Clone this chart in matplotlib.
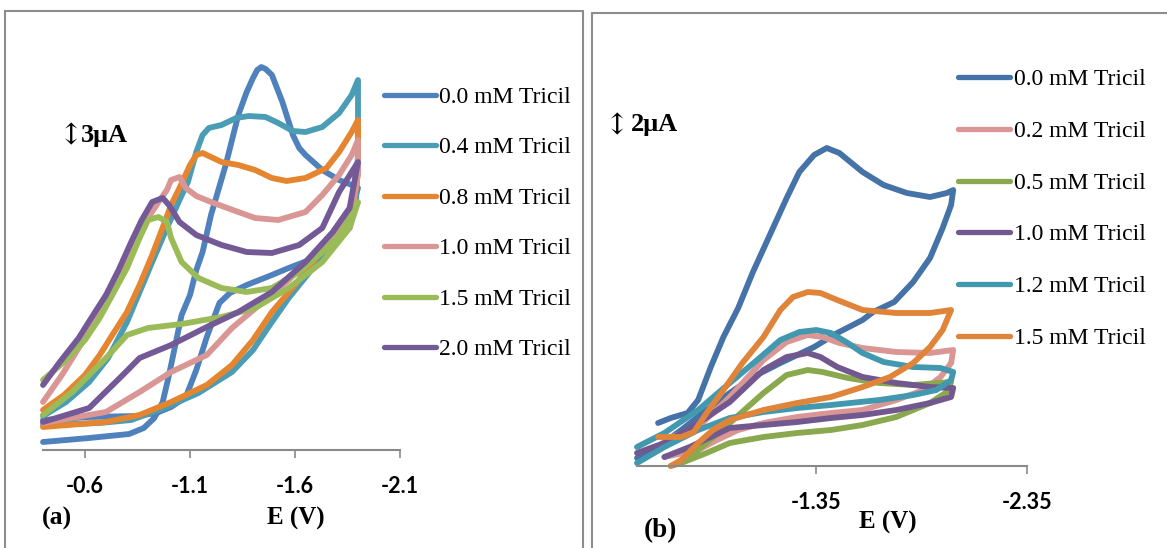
import matplotlib
matplotlib.use("Agg")
import matplotlib.pyplot as plt
from matplotlib.lines import Line2D
from matplotlib.patches import Rectangle

plt.rcParams['axes.unicode_minus'] = False
SERIF = ['Liberation Serif', 'DejaVu Serif']

W, H = 1167, 548


def fx(x):
    return x / W


def fy(y):
    return 1 - y / H


# ---- (a) CVs, E in V, I in uA ----
a_labels = ['0.0 mM Tricil', '0.4 mM Tricil', '0.8 mM Tricil',
            '1.0 mM Tricil', '1.5 mM Tricil', '2.0 mM Tricil']
a_colors = ['#4F81BD', '#4A9DB5', '#E5852F', '#D99694', '#9BBB59', '#735A97']
a_ticks = [-0.6, -1.1, -1.6, -2.1]
a_ticklabels = ['-0.6', '-1.1', '-1.6', '-2.1']

E_a0 = [-0.40, -0.62, -0.81, -0.88, -0.93, -0.97, -1.00, -1.03, -1.06, -1.10,
        -1.13, -1.16, -1.20, -1.27, -1.33, -1.37, -1.40, -1.42, -1.44, -1.46,
        -1.49, -1.54, -1.59, -1.62, -1.65, -1.73, -1.81, -1.87, -1.90,
        -1.87, -1.81, -1.73, -1.57, -1.49, -1.37, -1.29, -1.24, -1.18, -1.13,
        -1.08, -1.01, -0.94, -0.84, -0.62, -0.40]
I_a0 = [0.40, 0.60, 0.80, 1.10, 1.60, 2.40, 3.75, 5.25, 6.75, 7.75,
        9.00, 9.90, 11.75, 14.25, 16.75, 17.90, 18.60, 19.00, 19.15, 19.05,
        18.75, 17.40, 15.75, 15.10, 14.75, 14.00, 13.50, 13.25, 13.10,
        12.00, 10.75, 9.75, 9.10, 8.75, 8.25, 7.85, 7.35, 5.65, 4.00,
        2.65, 2.15, 1.85, 1.70, 1.65, 1.50]

E_a1 = [-0.40, -0.67, -0.82, -0.99, -1.14, -1.30, -1.40, -1.48, -1.57, -1.67,
        -1.76, -1.86, -1.89, -1.90, -1.90,
        -1.87, -1.81, -1.73, -1.65, -1.59, -1.52, -1.46, -1.38, -1.32, -1.25,
        -1.19, -1.16, -1.13, -1.09, -1.05, -0.99, -0.92, -0.86, -0.80, -0.71,
        -0.62, -0.51, -0.40]
I_a1 = [1.25, 1.35, 1.50, 2.15, 2.85, 3.90, 5.00, 6.25, 7.60, 8.90,
        10.00, 11.10, 12.25, 15.00, 18.50,
        17.75, 16.85, 16.15, 15.90, 15.95, 16.35, 16.65, 16.70, 16.60, 16.25,
        16.10, 15.75, 14.90, 13.40, 12.50, 11.10, 9.40, 7.90, 6.40, 4.60,
        3.40, 2.40, 1.70]

E_a2 = [-0.40, -0.70, -0.86, -1.01, -1.18, -1.30, -1.40, -1.49, -1.60, -1.71,
        -1.81, -1.88, -1.90, -1.90,
        -1.87, -1.81, -1.75, -1.65, -1.56, -1.49, -1.41, -1.33, -1.25, -1.20,
        -1.16, -1.13, -1.10, -1.05, -1.01, -0.98, -0.92, -0.86, -0.80, -0.73,
        -0.67, -0.60, -0.50, -0.40]
I_a2 = [1.15, 1.40, 1.75, 2.40, 3.25, 4.25, 5.50, 6.90, 8.25, 9.75,
        11.00, 12.25, 14.00, 16.50,
        15.90, 14.90, 14.10, 13.60, 13.45, 13.60, 14.00, 14.25, 14.40, 14.65,
        14.85, 14.75, 14.25, 13.10, 12.25, 11.40, 9.75, 8.25, 6.90, 5.75,
        4.75, 3.75, 2.75, 2.00]

E_a3 = [-0.40, -0.70, -0.86, -1.01, -1.18, -1.30, -1.43, -1.57, -1.69, -1.79,
        -1.87, -1.90, -1.90,
        -1.87, -1.81, -1.73, -1.65, -1.52, -1.41, -1.33, -1.20, -1.13, -1.08,
        -1.05, -1.01, -0.99, -0.95, -0.90, -0.84, -0.78, -0.71, -0.65, -0.57,
        -0.49, -0.40]
I_a3 = [1.35, 1.90, 2.90, 3.90, 4.75, 6.10, 7.25, 8.50, 9.75, 10.90,
        12.00, 13.75, 15.50,
        14.75, 13.75, 12.75, 11.90, 11.50, 11.60, 11.90, 12.40, 12.70, 13.10,
        13.65, 13.50, 13.00, 12.40, 11.60, 10.40, 9.00, 7.60, 6.40, 5.10,
        3.75, 2.40]

E_a4 = [-0.40, -0.54, -0.70, -0.80, -0.90, -1.06, -1.25, -1.41, -1.57, -1.73,
        -1.86, -1.90,
        -1.87, -1.81, -1.73, -1.62, -1.49, -1.37, -1.25, -1.14, -1.06, -1.01,
        -0.99, -0.95, -0.90, -0.86, -0.80, -0.73, -0.67, -0.60, -0.50, -0.40]
I_a4 = [1.75, 2.90, 4.60, 5.75, 6.10, 6.30, 6.65, 7.10, 8.10, 9.40,
        11.10, 12.40,
        11.75, 10.75, 9.90, 8.90, 8.10, 7.90, 8.10, 8.60, 9.40, 10.60,
        11.40, 11.65, 11.50, 10.60, 9.10, 7.75, 6.60, 5.50, 4.40, 3.50]

E_a5 = [-0.40, -0.62, -0.78, -0.86, -1.01, -1.18, -1.33, -1.49, -1.65, -1.78,
        -1.86, -1.90,
        -1.87, -1.81, -1.73, -1.62, -1.49, -1.37, -1.25, -1.13, -1.05, -1.00,
        -0.97, -0.92, -0.87, -0.82, -0.76, -0.70, -0.63, -0.57, -0.48, -0.40]
I_a5 = [1.40, 2.10, 3.75, 4.60, 5.25, 6.15, 6.90, 7.90, 9.40, 10.90,
        12.10, 14.40,
        13.90, 12.90, 11.10, 10.25, 9.85, 9.90, 10.25, 10.75, 11.40, 12.25,
        12.60, 12.40, 11.50, 10.40, 9.00, 7.75, 6.60, 5.60, 4.40, 3.25]

# ---- (b) CVs ----
b_labels = ['0.0 mM Tricil', '0.2 mM Tricil', '0.5 mM Tricil',
            '1.0 mM Tricil', '1.2 mM Tricil', '1.5 mM Tricil']
b_colors = ['#4572A7', '#D99694', '#8AA84E', '#71588F', '#4198AF', '#E0843A']
b_ticks = [-1.35, -2.35]
b_ticklabels = ['-1.35', '-2.35']

E_b0 = [-0.60, -0.66, -0.74, -0.79, -0.85, -0.91, -0.98, -1.05, -1.13, -1.21,
        -1.27, -1.34, -1.40, -1.46, -1.57, -1.67, -1.78, -1.89, -1.97, -2.00,
        -1.99, -1.95, -1.89, -1.81, -1.72, -1.62, -1.57, -1.45, -1.34, -1.18,
        -1.05, -0.94, -0.83, -0.71, -0.60, -0.50]
I_b0 = [1.72, 1.92, 2.12, 2.64, 3.96, 5.16, 6.32, 7.76, 9.24, 10.72,
        11.76, 12.44, 12.72, 12.52, 11.76, 11.24, 10.92, 10.76, 10.92, 11.04,
        10.44, 9.52, 8.32, 7.36, 6.56, 6.16, 5.84, 5.32, 4.76, 4.12,
        3.56, 2.92, 2.24, 1.44, 0.76, 0.32]

E_b1 = [-0.63, -0.79, -0.94, -1.10, -1.21, -1.31, -1.38, -1.46, -1.57, -1.73,
        -1.89, -2.00,
        -1.99, -1.94, -1.86, -1.73, -1.57, -1.42, -1.26, -1.10, -0.98, -0.88,
        -0.79, -0.63]
I_b1 = [1.04, 1.56, 2.76, 4.24, 4.96, 5.24, 5.16, 4.92, 4.72, 4.56,
        4.52, 4.64,
        4.12, 3.56, 3.04, 2.64, 2.24, 2.12, 1.96, 1.72, 1.44, 1.04,
        0.64, 0.36]

E_b2 = [-0.71, -0.79, -0.94, -1.10, -1.21, -1.31, -1.38, -1.50, -1.65, -1.81,
        -1.99,
        -1.97, -1.89, -1.73, -1.57, -1.42, -1.26, -1.10, -0.94, -0.83, -0.71,
        -0.66]
I_b2 = [0.24, 0.64, 1.72, 2.92, 3.64, 3.84, 3.76, 3.52, 3.32, 3.24,
        3.36,
        2.96, 2.52, 1.96, 1.64, 1.44, 1.32, 1.16, 0.92, 0.52, 0.12,
        0.00]

E_b3 = [-0.50, -0.63, -0.79, -0.94, -1.10, -1.21, -1.31, -1.37, -1.45, -1.57,
        -1.73, -1.89, -2.00,
        -1.99, -1.89, -1.73, -1.57, -1.42, -1.26, -1.10, -0.94, -0.85, -0.75,
        -0.63]
I_b3 = [0.52, 0.92, 1.72, 2.56, 3.84, 4.36, 4.52, 4.36, 3.96, 3.56,
        3.32, 3.16, 3.12,
        2.76, 2.52, 2.24, 2.04, 1.92, 1.76, 1.64, 1.52, 1.16, 0.76,
        0.36]

E_b4 = [-0.50, -0.63, -0.79, -0.94, -1.07, -1.18, -1.27, -1.35, -1.42, -1.50,
        -1.57, -1.67, -1.81, -1.94, -2.00,
        -1.99, -1.92, -1.81, -1.65, -1.42, -1.26, -1.10, -0.94, -0.79, -0.63,
        -0.50]
I_b4 = [0.76, 1.32, 2.24, 3.32, 4.24, 5.04, 5.36, 5.44, 5.32, 4.92,
        4.52, 4.16, 3.96, 3.92, 3.76,
        3.44, 3.04, 2.84, 2.64, 2.44, 2.32, 2.16, 1.92, 1.44, 0.76,
        0.12]

E_b5 = [-0.60, -0.71, -0.77, -0.83, -0.91, -1.00, -1.10, -1.18, -1.24, -1.31,
        -1.37, -1.45, -1.57, -1.73, -1.89, -1.99,
        -1.95, -1.89, -1.81, -1.70, -1.57, -1.42, -1.26, -1.10, -0.94, -0.86,
        -0.79, -0.71, -0.66]
I_b5 = [1.16, 1.16, 1.36, 2.12, 3.04, 4.12, 5.16, 6.24, 6.76, 6.96,
        6.92, 6.64, 6.24, 6.12, 6.12, 6.24,
        5.44, 4.76, 4.12, 3.56, 3.16, 2.76, 2.52, 2.24, 1.84, 1.44,
        0.92, 0.24, 0.00]

a_series = [(E_a0, I_a0), (E_a1, I_a1), (E_a2, I_a2),
            (E_a3, I_a3), (E_a4, I_a4), (E_a5, I_a5)]
b_series = [(E_b0, I_b0), (E_b1, I_b1), (E_b2, I_b2),
            (E_b3, I_b3), (E_b4, I_b4), (E_b5, I_b5)]

fig = plt.figure(figsize=(W / 100, H / 100), dpi=100)

# grey boxes around the two panels
frame_kw = dict(fill=False, ec='#8d8d8d', lw=1.5, transform=fig.transFigure, clip_on=False)
fig.add_artist(Rectangle((fx(5), fy(600)), fx(583) - fx(5), fy(11) - fy(600), **frame_kw))
fig.add_artist(Rectangle((fx(592), fy(600)), fx(1200) - fx(592), fy(13) - fy(600), **frame_kw))


def make_axes(rect, xlim, ylim, ticks, ticklabels):
    ax = fig.add_axes(rect)
    ax.set_xlim(*xlim)
    ax.set_ylim(*ylim)
    for s in ('left', 'right', 'top'):
        ax.spines[s].set_visible(False)
    ax.spines['bottom'].set_color('#898989')
    ax.spines['bottom'].set_linewidth(1.5)
    ax.set_yticks([])
    ax.set_xticks(ticks)
    ax.set_xticklabels(ticklabels, fontfamily='Lato', fontweight='bold', fontsize=15.5)
    ax.tick_params(axis='x', direction='out', length=6, width=1.2,
                   color='#898989', pad=12.5)
    ax.patch.set_alpha(0)
    return ax


ax_a = make_axes([fx(43), fy(450), (400 - 43) / W, (450 - 30) / H],
                 (-0.4, -2.1), (0, 21), a_ticks, a_ticklabels)
ax_b = make_axes([fx(637), fy(466), (1027 - 637) / W, (466 - 41) / H],
                 (-0.5, -2.35), (0, 17), b_ticks, b_ticklabels)

line_kw = dict(lw=4.2, solid_joinstyle='round', solid_capstyle='round', clip_on=False)
for (e, i), c in zip(a_series, a_colors):
    ax_a.plot(e, i, color=c, **line_kw)
for (e, i), c in zip(b_series, b_colors):
    ax_b.plot(e, i, color=c, **line_kw)


# legends drawn as a column of short lines + labels to the right of each plot
def legend_column(labels, colors, x1, x2, xt, y0, dy):
    for k, (lab, c) in enumerate(zip(labels, colors)):
        y = y0 + k * dy
        fig.add_artist(Line2D([fx(x1), fx(x2)], [fy(y), fy(y)], color=c, lw=3.8,
                              solid_capstyle='round', transform=fig.transFigure))
        fig.text(fx(xt), fy(y), lab, family=SERIF, fontsize=17,
                 ha='left', va='center_baseline')


legend_column(a_labels, a_colors, 384, 436, 439, 95, 50.4)
legend_column(b_labels, b_colors, 958, 1010, 1014, 77, 51.8)

# current scale marks: a tall thin arrow followed by the bold value
fig.text(fx(71), fy(136), '\u2195', family=['DejaVu Serif'], fontsize=21,
         ha='center', va='center')
fig.text(fx(81), fy(135), '3\u03bcA', family=SERIF, fontsize=19,
         fontweight='bold', ha='left', va='center')
fig.text(fx(617), fy(126), '\u2195', family=['DejaVu Serif'], fontsize=21,
         ha='center', va='center')
fig.text(fx(631), fy(125), '2\u03bcA', family=SERIF, fontsize=19,
         fontweight='bold', ha='left', va='center')

# panel letters and axis titles
fig.text(fx(57), fy(518), '(a)', family=SERIF, fontsize=18.5,
         fontweight='bold', ha='center', va='center')
fig.text(fx(660), fy(531), '(b)', family=SERIF, fontsize=19.5,
         fontweight='bold', ha='center', va='center')
fig.text(fx(296), fy(518), 'E (V)', family=SERIF, fontsize=18,
         fontweight='bold', ha='center', va='center')
fig.text(fx(888), fy(522), 'E (V)', family=SERIF, fontsize=18,
         fontweight='bold', ha='center', va='center')

fig.savefig('out.png', dpi=100)
